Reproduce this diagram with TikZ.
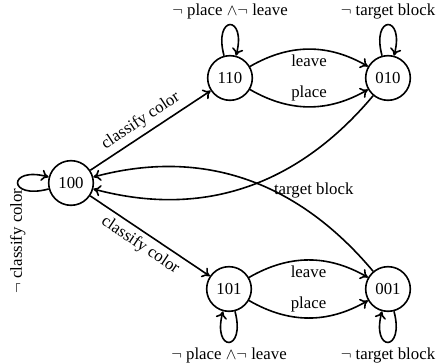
\documentclass[tikz,border=0pt]{standalone}
\usepackage{fontspec}
\setmainfont{Liberation Serif}
\usetikzlibrary{arrows.meta}
\begin{document}
\begin{tikzpicture}[x=0.75pt,y=0.75pt,
  state/.style={draw, circle, line width=1.2pt, minimum size=33.5pt, inner sep=0pt, font=\fontsize{12.6}{15}\selectfont},
  tr/.style={line width=1.2pt, -{Computer Modern Rightarrow[length=5.5pt,width=8.5pt]}},
  lbl/.style={font=\fontsize{12.6}{15}\selectfont, inner sep=3.5pt},
]
\useasboundingbox (0,0) rectangle (444,364);
\node[state] (s100) at (71,181) {100};
\node[state] (s110) at (230,286) {110};
\node[state] (s010) at (388,286) {010};
\node[state] (s101) at (229,75) {101};
\node[state] (s001) at (388,75) {001};

\draw[tr] (s100) to[out=195,in=165,distance=32pt] node[lbl,sloped,anchor=east] {$\neg$ classify color} (s100);
\draw[tr] (s110) to[out=105,in=75,distance=32pt] node[lbl,above] {$\neg$ place $\wedge\neg$ leave} (s110);
\draw[tr] (s010) to[out=105,in=75,distance=32pt] node[lbl,above] {$\neg$ target block} (s010);
\draw[tr] (s101) to[out=285,in=255,distance=32pt] node[lbl,below] {$\neg$ place $\wedge\neg$ leave} (s101);
\draw[tr] (s001) to[out=285,in=255,distance=32pt] node[lbl,below] {$\neg$ target block} (s001);

\draw[tr] (s100) -- node[lbl,sloped,above,pos=0.48] {classify color} (s110);
\draw[tr] (s100) -- node[lbl,sloped,below,pos=0.48] {classify color} (s101);

\draw[tr] (s110) to[bend left=30] node[lbl,below] {leave} (s010);
\draw[tr] (s110) to[bend right=30] node[lbl,above] {place} (s010);
\draw[tr] (s101) to[bend left=30] node[lbl,below] {leave} (s001);
\draw[tr] (s101) to[bend right=30] node[lbl,above] {place} (s001);

\draw[tr] (s010) to[out=230,in=-15] node[lbl,pos=0.43,anchor=north west,xshift=1.5pt,yshift=1.5pt] {target block} (s100);
\draw[tr] (s001) to[out=130,in=15] (s100);
\end{tikzpicture}
\end{document}
